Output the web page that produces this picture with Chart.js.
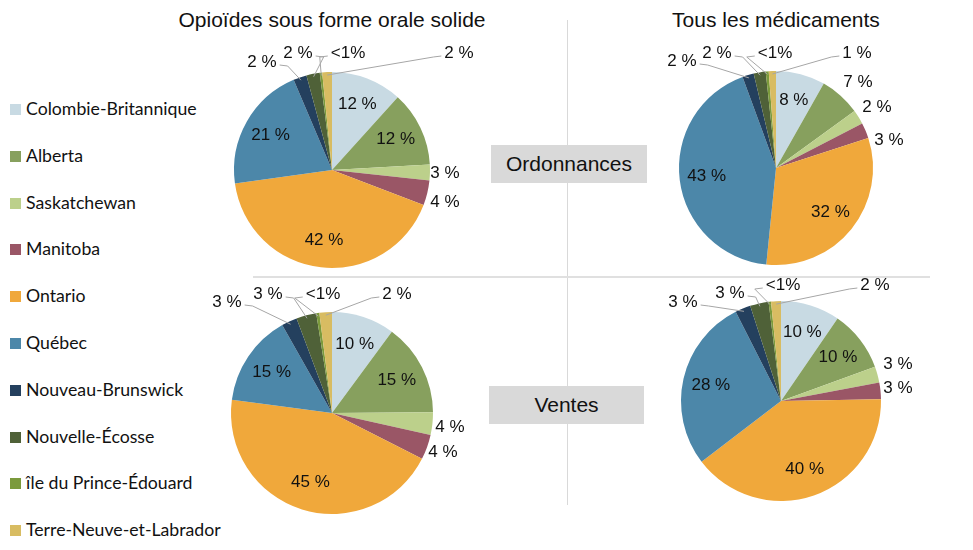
<!DOCTYPE html>
<html>
<head>
<meta charset="utf-8">
<style>
  body { margin: 0; width: 973px; height: 550px; background: #fff; overflow: hidden; position: relative;
         font-family: "Liberation Sans", Arial, sans-serif; color: #111; }
  canvas { position: absolute; left: 0; top: 0; }
  .title { position: absolute; font-size: 21px; white-space: nowrap; transform: translate(-50%, -50%); }
  .box { position: absolute; background: #d9d9d9; font-size: 21px; display: flex; align-items: center; justify-content: center; }
  .vline { position: absolute; left: 567px; top: 20px; width: 1px; height: 485px; background: #d9d9d9; }
  .hline { position: absolute; left: 253px; top: 276px; width: 677px; height: 2px; background: #e0e0e0; }
  .item { position: absolute; left: 10px; font-family: Lato, "Open Sans", sans-serif; font-size: 17.7px; white-space: nowrap; }
  .item span { display: inline-block; width: 11px; height: 11px; margin-right: 5px; vertical-align: 0px; }
</style>
</head>
<body>
<div class="vline"></div>
<div class="hline"></div>
<div class="title" style="left:332px;top:20px">Opioïdes sous forme orale solide</div>
<div class="title" style="left:776px;top:20px">Tous les médicaments</div>
<div class="box" style="left:491px;top:145px;width:156px;height:38px">Ordonnances</div>
<div class="box" style="left:489px;top:386px;width:155px;height:38px">Ventes</div>
<div id="legend"></div>

<canvas id="c1" width="973" height="550"></canvas>
<canvas id="c2" width="973" height="550"></canvas>
<canvas id="c3" width="973" height="550"></canvas>
<canvas id="c4" width="973" height="550"></canvas>

<script src="https://cdn.jsdelivr.net/npm/chart.js"></script>
<script>
  // provinces, in slice order (clockwise from 12 o'clock)
  const regions = ['Colombie-Britannique', 'Alberta', 'Saskatchewan', 'Manitoba', 'Ontario', 'Québec',
                   'Nouveau-Brunswick', 'Nouvelle-Écosse', 'île du Prince-Édouard', 'Terre-Neuve-et-Labrador'];
  const colors = ['#c8dae3', '#87a05e', '#bcd08b', '#9a5666', '#f0a83b', '#4c87a9',
                  '#24405e', '#4f6138', '#7b9a3c', '#d8bc62'];

  // shares in %
  const opioidsRx     = [11.7, 12.4, 2.6, 4.1, 42.0, 20.8, 2.2, 2.2, 0.4, 1.6];
  const allDrugsRx    = [8.2, 6.8, 2.4, 2.6, 31.6, 42.8, 1.9, 2.0, 0.5, 1.2];
  const opioidsSales  = [10.1, 14.8, 3.6, 4.0, 44.6, 14.7, 2.5, 3.2, 0.5, 2.0];
  const allDrugsSales = [9.6, 9.9, 2.6, 2.7, 40.0, 28.0, 2.5, 3.0, 0.4, 1.6];

  // legend
  const legend = document.getElementById('legend');
  regions.forEach((r, i) => {
    const d = document.createElement('div');
    d.className = 'item';
    d.style.top = (98 + i * 46.8) + 'px';
    d.innerHTML = `<span style="background:${colors[i]}"></span>${r}`;
    legend.appendChild(d);
  });

  // draws the % labels: inside ones along the mid angle, outside ones where placed, with leader lines
  const sliceLabels = {
    id: 'sliceLabels',
    afterDatasetsDraw(chart, args, opts) {
      const ctx = chart.ctx;
      const meta = chart.getDatasetMeta(0);
      const values = chart.data.datasets[0].data;
      ctx.save();
      ctx.font = '17px "Liberation Sans", Arial, sans-serif';
      ctx.textAlign = 'center';
      ctx.textBaseline = 'middle';
      ctx.strokeStyle = '#a6a6a6';
      ctx.lineWidth = 1;
      meta.data.forEach((arc, i) => {
        const p = arc.getProps(['x', 'y', 'startAngle', 'endAngle', 'outerRadius'], true);
        const mid = (p.startAngle + p.endAngle) / 2;
        const text = values[i] < 1 ? '<1%' : Math.round(values[i]) + ' %';
        const off = opts.outside[i];
        let tx, ty;
        if (off) {
          tx = p.x + off[0];
          ty = p.y + off[1];
        } else {
          tx = p.x + Math.cos(mid) * p.outerRadius * 0.72;
          ty = p.y + Math.sin(mid) * p.outerRadius * 0.72;
        }
        if (off && opts.leaders.includes(i)) {
          const px = p.x + Math.cos(mid) * p.outerRadius * 0.97;
          const py = p.y + Math.sin(mid) * p.outerRadius * 0.97;
          const w = ctx.measureText(text).width;
          const side = tx < px ? 1 : -1;
          const sx = tx + side * (w / 2 + 3);
          ctx.beginPath();
          ctx.moveTo(sx, ty + 3);
          ctx.lineTo(sx + side * 8, ty + 4);
          ctx.lineTo(px, py);
          ctx.stroke();
        }
        ctx.fillStyle = '#111';
        ctx.fillText(text, tx, ty);
      });
      ctx.restore();
    }
  };

  function pie(id, values, cx, cy, r, outside) {
    new Chart(document.getElementById(id), {
      type: 'pie',
      data: {
        labels: regions,
        datasets: [{ data: values, backgroundColor: colors, borderWidth: 0 }]
      },
      options: {
        responsive: false,
        animation: false,
        events: [],
        layout: { padding: { left: cx - r, right: 973 - cx - r, top: cy - r, bottom: 550 - cy - r } },
        plugins: {
          legend: { display: false },
          tooltip: { enabled: false },
          sliceLabels: { outside, leaders: [6, 7, 8, 9] }
        }
      },
      plugins: [sliceLabels]
    });
  }

  pie('c1', opioidsRx, 332, 170, 98,
      { 2: [113, 3], 3: [113, 32], 6: [-70, -108], 7: [-34, -117], 8: [16, -117], 9: [127, -117] });
  pie('c2', allDrugsRx, 776, 168, 97,
      { 1: [82, -86], 2: [101, -61], 3: [113, -28], 6: [-94, -107], 7: [-59, -115], 8: [-1, -115], 9: [81, -115] });
  pie('c3', opioidsSales, 332, 413, 101,
      { 2: [118, 14], 3: [111, 39], 6: [-105, -111], 7: [-64, -119], 8: [-9, -119], 9: [65, -119] });
  pie('c4', allDrugsSales, 781, 401, 100,
      { 2: [117, -37], 3: [117, -13], 6: [-98, -99], 7: [-51, -108], 8: [2, -116], 9: [94, -116] });
</script>
</body>
</html>
